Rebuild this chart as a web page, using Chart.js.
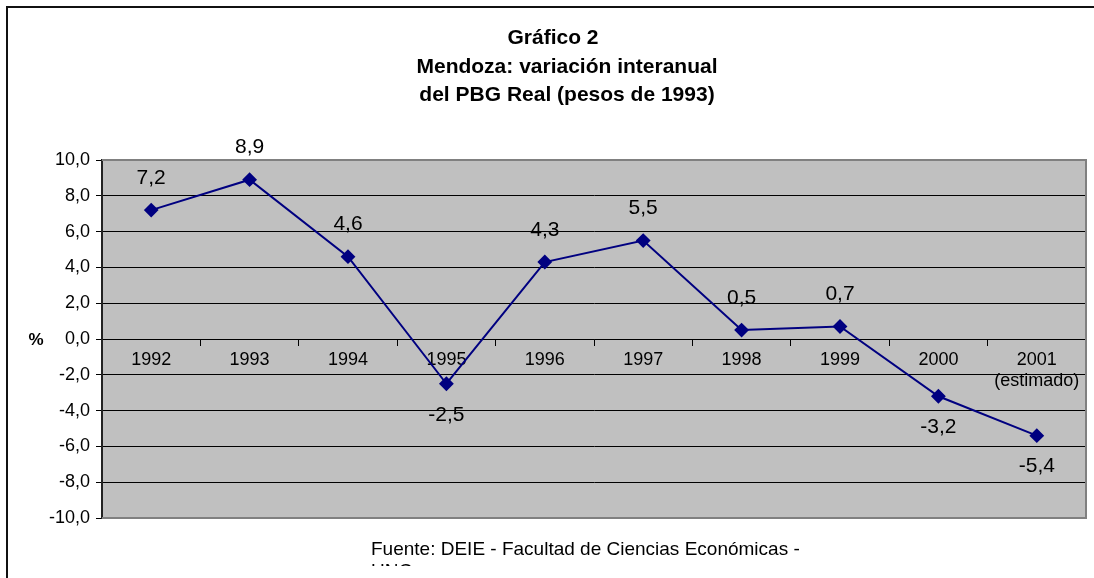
<!DOCTYPE html>
<html><head><meta charset="utf-8">
<script src="https://cdn.jsdelivr.net/npm/chart.js@4"></script>
<style>html,body{margin:0;padding:0;background:#fff}#wrap{width:1094px;height:578px}</style>
</head><body><div id="wrap"><canvas id="c" width="1094" height="578"></canvas></div>
<script>
const categories = ['1992','1993','1994','1995','1996','1997','1998','1999','2000',['2001','(estimado)']];
const values = [7.2, 8.9, 4.6, -2.5, 4.3, 5.5, 0.5, 0.7, -3.2, -5.4];
const titleLines = ['Gráfico 2', 'Mendoza: variación interanual', 'del PBG Real (pesos de 1993)'];
const yTicks = [-10, -8, -6, -4, -2, 0, 2, 4, 6, 8, 10];
const yLabel = '%';
const source = ['Fuente: DEIE - Facultad de Ciencias Económicas -', 'UNC'];

const fmt = v => v.toFixed(1).replace('.', ',');
const FONT = '"Liberation Sans", Arial, sans-serif';

const decor = {
  id: 'decor',
  beforeDraw(chart) {
    const {ctx, chartArea: a} = chart;
    ctx.save();
    ctx.fillStyle = '#fff';
    ctx.fillRect(0, 0, chart.width, chart.height);
    ctx.fillStyle = '#C0C0C0';
    ctx.fillRect(a.left, a.top, a.right - a.left, a.bottom - a.top);
    ctx.restore();
  },
  afterDatasetsDraw(chart) {
    const {ctx, chartArea: a} = chart;
    ctx.save();
    // plot border
    ctx.strokeStyle = '#808080';
    ctx.lineWidth = 2;
    ctx.beginPath();
    ctx.moveTo(a.left, a.top); ctx.lineTo(a.right, a.top);
    ctx.lineTo(a.right, a.bottom); ctx.lineTo(a.left, a.bottom);
    ctx.stroke();
    // outer frame
    ctx.strokeStyle = '#111';
    ctx.lineWidth = 2;
    ctx.beginPath();
    ctx.moveTo(7, chart.height + 5); ctx.lineTo(7, 7); ctx.lineTo(chart.width + 5, 7);
    ctx.stroke();
    // data labels
    const meta = chart.getDatasetMeta(0);
    ctx.fillStyle = '#000';
    ctx.font = '21px ' + FONT;
    ctx.textAlign = 'center';
    ctx.textBaseline = 'middle';
    meta.data.forEach((p, i) => {
      const v = values[i];
      ctx.fillText(fmt(v), p.x, v >= 0 ? p.y - 32 : p.y + 31);
    });
    // title
    ctx.font = 'bold 21px ' + FONT;
    const tys = [38, 67, 95];
    titleLines.forEach((t, i) => ctx.fillText(t, i === 0 ? 553 : 567, tys[i]));
    // y label
    ctx.font = 'bold 17px ' + FONT;
    ctx.fillText(yLabel, 36, chart.scales.y.getPixelForValue(0) + 1);
    // source (text box clipped like the original)
    ctx.font = '19px ' + FONT;
    ctx.textAlign = 'left';
    ctx.fillText(source[0], 371, 550);
    ctx.beginPath();
    ctx.rect(360, 530, 500, 36);
    ctx.clip();
    ctx.fillText(source[1], 371, 572);
    ctx.restore();
  }
};

new Chart(document.getElementById('c'), {
  type: 'line',
  data: {
    labels: categories,
    datasets: [{
      data: values,
      borderColor: '#000080',
      backgroundColor: '#000080',
      borderWidth: 2,
      pointStyle: 'rectRot',
      pointRadius: 6,
      pointHoverRadius: 6,
      tension: 0,
      fill: false
    }]
  },
  options: {
    responsive: false,
    animation: false,
    devicePixelRatio: 1,
    layout: {padding: {top: 160, bottom: 60, right: 7, left: 0}},
    plugins: {legend: {display: false}, tooltip: {enabled: false}, title: {display: false}},
    scales: {
      x: {
        type: 'category',
        position: {y: 0},
        offset: true,
        grid: {offset: true, drawOnChartArea: false, drawTicks: true, tickLength: 6, color: '#000', lineWidth: 1},
        border: {color: '#000', width: 1},
        ticks: {color: '#000', font: {family: FONT, size: 18}, padding: 4, maxRotation: 0, autoSkip: false}
      },
      y: {
        min: -10, max: 10,
        afterBuildTicks(scale) { scale.ticks = yTicks.map(v => ({value: v})); },
        afterFit(scale) { scale.width = 102; },
        grid: {color: '#000', lineWidth: 1, tickLength: 6, drawTicks: true},
        border: {color: '#222', width: 2},
        ticks: {color: '#000', font: {family: FONT, size: 18}, padding: 6, callback: v => fmt(v)}
      }
    }
  },
  plugins: [decor]
});
</script>
</body></html>
